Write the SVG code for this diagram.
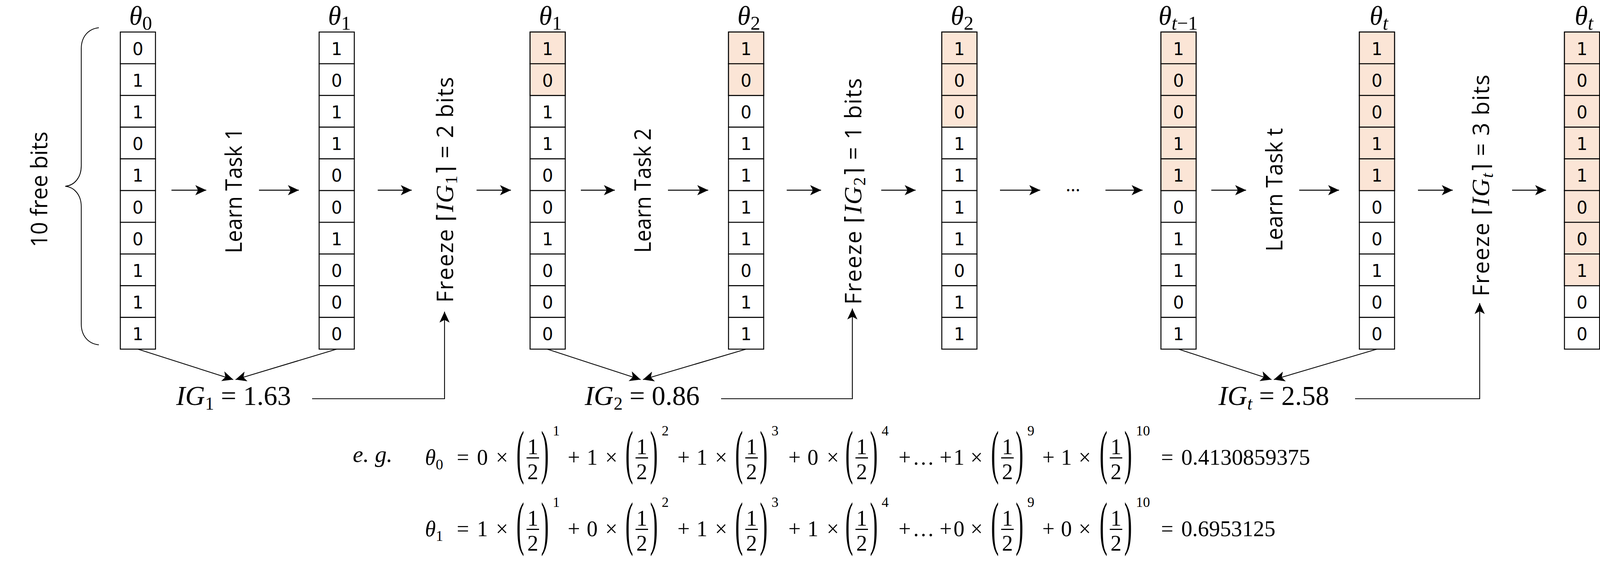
<svg xmlns="http://www.w3.org/2000/svg" xmlns:xlink="http://www.w3.org/1999/xlink" width="4174" height="1457" viewBox="0 0 4174 1457">
<style>
.c{fill:#fff;stroke:#000;stroke-width:2.5}
.f{fill:#FBE5D6;stroke:#000;stroke-width:2.5}
.d{font-family:"DejaVu Sans",sans-serif;font-size:44px;text-anchor:middle;fill:#000}
.lbl{font-family:"Liberation Serif",serif;font-size:68px;font-style:italic;text-anchor:middle}
.sub{font-size:50px;font-style:normal}
.subi{font-size:50px;font-style:italic}
.rot{font-family:"Open Sans","Noto Sans",sans-serif;font-size:58px;text-anchor:middle}
.mi{font-family:"Liberation Serif",serif;font-style:italic;font-size:64px}
.ms{font-family:"Liberation Serif",serif;font-size:44px}
.ceil{font-family:"DejaVu Sans",sans-serif}
.ig{font-family:"Liberation Serif",serif;font-size:70px;text-anchor:middle}
.eq{font-family:"Liberation Serif",serif;font-size:56px;text-anchor:middle}
.eqs{font-family:"Liberation Serif",serif;font-size:36px}
.par{font-family:"Liberation Serif",serif;font-size:60px;text-anchor:middle}
.ar{fill:none;stroke:#000;stroke-width:2.5;marker-end:url(#ah)}
.ln{fill:none;stroke:#000;stroke-width:2.2;marker-end:url(#ah)}
.br{fill:none;stroke:#000;stroke-width:2}
</style>
<defs>
<marker id="ah" markerUnits="userSpaceOnUse" markerWidth="28" markerHeight="26" viewBox="0 0 28 26" refX="28" refY="13" orient="auto">
<path d="M0,0 L28,13 L0,26 L7,13 Z" fill="#000"/>
</marker>
<g id="grid">
<rect class="c" x="0" y="82" width="90" height="81.2"/>
<rect class="c" x="0" y="163.2" width="90" height="81.2"/>
<rect class="c" x="0" y="244.4" width="90" height="81.2"/>
<rect class="c" x="0" y="325.6" width="90" height="81.2"/>
<rect class="c" x="0" y="406.8" width="90" height="81.2"/>
<rect class="c" x="0" y="488" width="90" height="81.2"/>
<rect class="c" x="0" y="569.2" width="90" height="81.2"/>
<rect class="c" x="0" y="650.4" width="90" height="81.2"/>
<rect class="c" x="0" y="731.6" width="90" height="81.2"/>
<rect class="c" x="0" y="812.8" width="90" height="81.2"/>
</g>
<g id="frac">
<text class="par" transform="translate(-32,-17) scale(1,2.55)" y="14">(</text>
<text class="eq" y="-27">1</text>
<rect x="-16" y="-19" width="32" height="3" fill="#000"/>
<text class="eq" y="37">2</text>
<text class="par" transform="translate(31,-17) scale(1,2.55)" y="14">)</text>
</g>
</defs>
<rect width="4174" height="1457" fill="#fff"/>

<!-- brace and label -->
<g id="free-bits">
<path class="br" d="M253,71 C225,74 208,95 208,125 L208,425 C208,455 190,475 167,477 C190,479 208,499 208,529 L208,829 C208,859 225,880 253,883"/>
<text class="rot" transform="translate(121,485) rotate(-90)" textLength="296" lengthAdjust="spacingAndGlyphs">10 free bits</text>
</g>

<!-- columns -->
<g id="col-theta0" transform="translate(308,0)">
<use href="#grid"/>
<text class="d" x="45" y="140.5">0</text><text class="d" x="45" y="221.7">1</text><text class="d" x="45" y="302.9">1</text><text class="d" x="45" y="384.1">0</text><text class="d" x="45" y="465.3">1</text><text class="d" x="45" y="546.5">0</text><text class="d" x="45" y="627.7">0</text><text class="d" x="45" y="708.9">1</text><text class="d" x="45" y="790.1">1</text><text class="d" x="45" y="871.3">1</text>
<text class="lbl" x="52" y="63">θ<tspan class="sub" dy="13">0</tspan></text>
</g>
<g id="col-theta1a" transform="translate(817,0)">
<use href="#grid"/>
<text class="d" x="45" y="140.5">1</text><text class="d" x="45" y="221.7">0</text><text class="d" x="45" y="302.9">1</text><text class="d" x="45" y="384.1">1</text><text class="d" x="45" y="465.3">0</text><text class="d" x="45" y="546.5">0</text><text class="d" x="45" y="627.7">1</text><text class="d" x="45" y="708.9">0</text><text class="d" x="45" y="790.1">0</text><text class="d" x="45" y="871.3">0</text>
<text class="lbl" x="52" y="63">θ<tspan class="sub" dy="13">1</tspan></text>
</g>
<g id="col-theta1b" transform="translate(1357,0)">
<use href="#grid"/>
<rect class="f" x="0" y="82" width="90" height="81.2"/><rect class="f" x="0" y="163.2" width="90" height="81.2"/>
<text class="d" x="45" y="140.5">1</text><text class="d" x="45" y="221.7">0</text><text class="d" x="45" y="302.9">1</text><text class="d" x="45" y="384.1">1</text><text class="d" x="45" y="465.3">0</text><text class="d" x="45" y="546.5">0</text><text class="d" x="45" y="627.7">1</text><text class="d" x="45" y="708.9">0</text><text class="d" x="45" y="790.1">0</text><text class="d" x="45" y="871.3">0</text>
<text class="lbl" x="52" y="63">θ<tspan class="sub" dy="13">1</tspan></text>
</g>
<g id="col-theta2a" transform="translate(1865,0)">
<use href="#grid"/>
<rect class="f" x="0" y="82" width="90" height="81.2"/><rect class="f" x="0" y="163.2" width="90" height="81.2"/>
<text class="d" x="45" y="140.5">1</text><text class="d" x="45" y="221.7">0</text><text class="d" x="45" y="302.9">0</text><text class="d" x="45" y="384.1">1</text><text class="d" x="45" y="465.3">1</text><text class="d" x="45" y="546.5">1</text><text class="d" x="45" y="627.7">1</text><text class="d" x="45" y="708.9">0</text><text class="d" x="45" y="790.1">1</text><text class="d" x="45" y="871.3">1</text>
<text class="lbl" x="52" y="63">θ<tspan class="sub" dy="13">2</tspan></text>
</g>
<g id="col-theta2b" transform="translate(2411,0)">
<use href="#grid"/>
<rect class="f" x="0" y="82" width="90" height="81.2"/><rect class="f" x="0" y="163.2" width="90" height="81.2"/><rect class="f" x="0" y="244.4" width="90" height="81.2"/>
<text class="d" x="45" y="140.5">1</text><text class="d" x="45" y="221.7">0</text><text class="d" x="45" y="302.9">0</text><text class="d" x="45" y="384.1">1</text><text class="d" x="45" y="465.3">1</text><text class="d" x="45" y="546.5">1</text><text class="d" x="45" y="627.7">1</text><text class="d" x="45" y="708.9">0</text><text class="d" x="45" y="790.1">1</text><text class="d" x="45" y="871.3">1</text>
<text class="lbl" x="52" y="63">θ<tspan class="sub" dy="13">2</tspan></text>
</g>
<g id="col-theta-t-1" transform="translate(2972,0)">
<use href="#grid"/>
<rect class="f" x="0" y="82" width="90" height="81.2"/><rect class="f" x="0" y="163.2" width="90" height="81.2"/><rect class="f" x="0" y="244.4" width="90" height="81.2"/><rect class="f" x="0" y="325.6" width="90" height="81.2"/><rect class="f" x="0" y="406.8" width="90" height="81.2"/>
<text class="d" x="45" y="140.5">1</text><text class="d" x="45" y="221.7">0</text><text class="d" x="45" y="302.9">0</text><text class="d" x="45" y="384.1">1</text><text class="d" x="45" y="465.3">1</text><text class="d" x="45" y="546.5">0</text><text class="d" x="45" y="627.7">1</text><text class="d" x="45" y="708.9">1</text><text class="d" x="45" y="790.1">0</text><text class="d" x="45" y="871.3">1</text>
<text class="lbl" x="44" y="63">θ<tspan class="subi" dy="13">t</tspan><tspan class="sub">−1</tspan></text>
</g>
<g id="col-theta-t-a" transform="translate(3480,0)">
<use href="#grid"/>
<rect class="f" x="0" y="82" width="90" height="81.2"/><rect class="f" x="0" y="163.2" width="90" height="81.2"/><rect class="f" x="0" y="244.4" width="90" height="81.2"/><rect class="f" x="0" y="325.6" width="90" height="81.2"/><rect class="f" x="0" y="406.8" width="90" height="81.2"/>
<text class="d" x="45" y="140.5">1</text><text class="d" x="45" y="221.7">0</text><text class="d" x="45" y="302.9">0</text><text class="d" x="45" y="384.1">1</text><text class="d" x="45" y="465.3">1</text><text class="d" x="45" y="546.5">0</text><text class="d" x="45" y="627.7">0</text><text class="d" x="45" y="708.9">1</text><text class="d" x="45" y="790.1">0</text><text class="d" x="45" y="871.3">0</text>
<text class="lbl" x="50" y="63">θ<tspan class="subi" dy="13">t</tspan></text>
</g>
<g id="col-theta-t-b" transform="translate(4005,0)">
<use href="#grid"/>
<rect class="f" x="0" y="82" width="90" height="81.2"/><rect class="f" x="0" y="163.2" width="90" height="81.2"/><rect class="f" x="0" y="244.4" width="90" height="81.2"/><rect class="f" x="0" y="325.6" width="90" height="81.2"/><rect class="f" x="0" y="406.8" width="90" height="81.2"/><rect class="f" x="0" y="488" width="90" height="81.2"/><rect class="f" x="0" y="569.2" width="90" height="81.2"/><rect class="f" x="0" y="650.4" width="90" height="81.2"/>
<text class="d" x="45" y="140.5">1</text><text class="d" x="45" y="221.7">0</text><text class="d" x="45" y="302.9">0</text><text class="d" x="45" y="384.1">1</text><text class="d" x="45" y="465.3">1</text><text class="d" x="45" y="546.5">0</text><text class="d" x="45" y="627.7">0</text><text class="d" x="45" y="708.9">1</text><text class="d" x="45" y="790.1">0</text><text class="d" x="45" y="871.3">0</text>
<text class="lbl" x="50" y="63">θ<tspan class="subi" dy="13">t</tspan></text>
</g>

<!-- step labels -->
<g id="learn1"><text class="rot" transform="translate(619,488) rotate(-90)" textLength="321" lengthAdjust="spacingAndGlyphs">Learn Task 1</text></g>
<g id="learn2"><text class="rot" transform="translate(1666,488) rotate(-90)" textLength="319" lengthAdjust="spacingAndGlyphs">Learn Task 2</text></g>
<g id="learnt"><text class="rot" transform="translate(3283,486) rotate(-90)" textLength="316" lengthAdjust="spacingAndGlyphs">Learn Task t</text></g>
<g id="freeze1"><text class="rot" transform="translate(1160,486) rotate(-90)" textLength="578" lengthAdjust="spacing">Freeze <tspan class="ceil">⌈</tspan><tspan class="mi">IG</tspan><tspan class="ms" dy="10">1</tspan><tspan class="ceil" dy="-10">⌉</tspan> = 2 bits</text></g>
<g id="freeze2"><text class="rot" transform="translate(2205,490) rotate(-90)" textLength="580" lengthAdjust="spacing">Freeze <tspan class="ceil">⌈</tspan><tspan class="mi">IG</tspan><tspan class="ms" dy="10">2</tspan><tspan class="ceil" dy="-10">⌉</tspan> = 1 bits</text></g>
<g id="freezet"><text class="rot" transform="translate(3812,475) rotate(-90)" textLength="568" lengthAdjust="spacing">Freeze <tspan class="ceil">⌈</tspan><tspan class="mi">IG</tspan><tspan class="ms" dy="10" font-style="italic">t</tspan><tspan class="ceil" dy="-10">⌉</tspan> = 3 bits</text></g>
<g id="dots"><text class="rot" x="2747" y="490" style="font-size:48px">…</text></g>

<!-- IG labels -->
<g id="ig1"><text class="ig" x="598" y="1037"><tspan font-style="italic">IG</tspan><tspan font-size="46" dy="12">1</tspan><tspan dy="-12"> = 1.63</tspan></text></g>
<g id="ig2"><text class="ig" x="1644" y="1037"><tspan font-style="italic">IG</tspan><tspan font-size="46" dy="12">2</tspan><tspan dy="-12"> = 0.86</tspan></text></g>
<g id="igt"><text class="ig" x="3261" y="1037"><tspan font-style="italic">IG</tspan><tspan font-size="46" dy="12" font-style="italic">t</tspan><tspan dy="-12"> = 2.58</tspan></text></g>

<!-- connectors -->
<g id="connectors">
<path class="ar" d="M439,487 H528"/>
<path class="ar" d="M663,487 H765"/>
<path class="ar" d="M967,487 H1054"/>
<path class="ar" d="M1220,487 H1308"/>
<path class="ar" d="M1487,487 H1574"/>
<path class="ar" d="M1710,487 H1813"/>
<path class="ar" d="M2014,487 H2102"/>
<path class="ar" d="M2256,487 H2344"/>
<path class="ar" d="M2560,487 H2663"/>
<path class="ar" d="M2830,487 H2925"/>
<path class="ar" d="M3101,487 H3190"/>
<path class="ar" d="M3326,487 H3428"/>
<path class="ar" d="M3630,487 H3719"/>
<path class="ar" d="M3871,487 H3958"/>
<path class="ln" d="M353,894 L597,972"/>
<path class="ln" d="M862,894 L603,972"/>
<path class="ln" d="M1401,894 L1640,972"/>
<path class="ln" d="M1910,894 L1646,972"/>
<path class="ln" d="M3017,894 L3255,972"/>
<path class="ln" d="M3525,894 L3261,972"/>
<path class="ln" d="M799,1021 H1138 V798"/>
<path class="ln" d="M1846,1021 H2182 V790"/>
<path class="ln" d="M3469,1021 H3788 V776"/>
</g>

<!-- example equations -->
<g id="example">
<text x="903" y="1183" style="font-family:'Liberation Serif',serif;font-size:60px;font-style:italic">e. g.</text>
<g transform="translate(0,1190)">
<text class="eq" x="1088" y="0" style="text-anchor:start"><tspan font-style="italic">θ</tspan><tspan font-size="38" dy="12">0</tspan></text>
<text class="eq" x="1185" y="0">=</text><text class="eq" x="1235" y="0">0</text><text class="eq" x="1285" y="0">×</text>
<use href="#frac" x="1364"/><text class="eqs" x="1415" y="-75">1</text>
<text class="eq" x="1469" y="0">+</text><text class="eq" x="1516" y="0">1</text><text class="eq" x="1565" y="0">×</text>
<use href="#frac" x="1643"/><text class="eqs" x="1694" y="-75">2</text>
<text class="eq" x="1750" y="0">+</text><text class="eq" x="1797" y="0">1</text><text class="eq" x="1846" y="0">×</text>
<use href="#frac" x="1924"/><text class="eqs" x="1975" y="-75">3</text>
<text class="eq" x="2034" y="0">+</text><text class="eq" x="2081" y="0">0</text><text class="eq" x="2132" y="0">×</text>
<use href="#frac" x="2206"/><text class="eqs" x="2257" y="-75">4</text>
<text class="eq" x="2316" y="0">+</text><text class="eq" x="2364" y="0">…</text><text class="eq" x="2421" y="0">+</text><text class="eq" x="2455" y="0">1</text><text class="eq" x="2500" y="0">×</text>
<use href="#frac" x="2579"/><text class="eqs" x="2630" y="-75">9</text>
<text class="eq" x="2684" y="0">+</text><text class="eq" x="2730" y="0">1</text><text class="eq" x="2777" y="0">×</text>
<use href="#frac" x="2857"/><text class="eqs" x="2908" y="-75">10</text>
<text class="eq" x="2988" y="0">=</text><text class="eq" x="3024" y="0" style="text-anchor:start" textLength="330" lengthAdjust="spacingAndGlyphs">0.4130859375</text>
</g>
<g transform="translate(0,1373)">
<text class="eq" x="1088" y="0" style="text-anchor:start"><tspan font-style="italic">θ</tspan><tspan font-size="38" dy="12">1</tspan></text>
<text class="eq" x="1185" y="0">=</text><text class="eq" x="1235" y="0">1</text><text class="eq" x="1285" y="0">×</text>
<use href="#frac" x="1364"/><text class="eqs" x="1415" y="-75">1</text>
<text class="eq" x="1469" y="0">+</text><text class="eq" x="1516" y="0">0</text><text class="eq" x="1565" y="0">×</text>
<use href="#frac" x="1643"/><text class="eqs" x="1694" y="-75">2</text>
<text class="eq" x="1750" y="0">+</text><text class="eq" x="1797" y="0">1</text><text class="eq" x="1846" y="0">×</text>
<use href="#frac" x="1924"/><text class="eqs" x="1975" y="-75">3</text>
<text class="eq" x="2034" y="0">+</text><text class="eq" x="2081" y="0">1</text><text class="eq" x="2132" y="0">×</text>
<use href="#frac" x="2206"/><text class="eqs" x="2257" y="-75">4</text>
<text class="eq" x="2316" y="0">+</text><text class="eq" x="2364" y="0">…</text><text class="eq" x="2421" y="0">+</text><text class="eq" x="2455" y="0">0</text><text class="eq" x="2500" y="0">×</text>
<use href="#frac" x="2579"/><text class="eqs" x="2630" y="-75">9</text>
<text class="eq" x="2684" y="0">+</text><text class="eq" x="2730" y="0">0</text><text class="eq" x="2777" y="0">×</text>
<use href="#frac" x="2857"/><text class="eqs" x="2908" y="-75">10</text>
<text class="eq" x="2988" y="0">=</text><text class="eq" x="3024" y="0" style="text-anchor:start" textLength="241" lengthAdjust="spacingAndGlyphs">0.6953125</text>
</g>
</g>
</svg>
